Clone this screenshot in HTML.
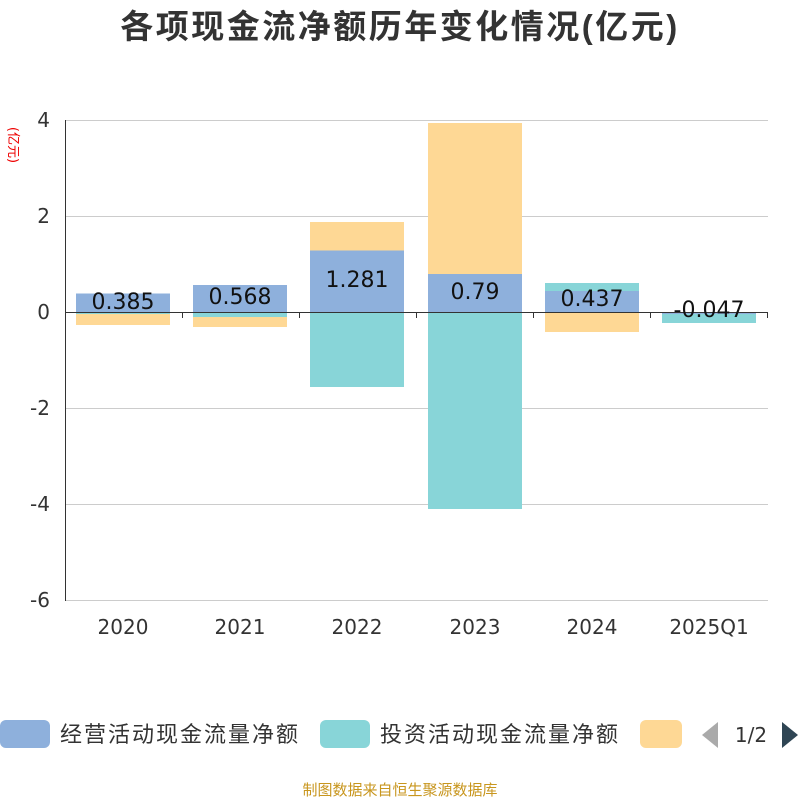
<!DOCTYPE html>
<html><head><meta charset="utf-8"><style>
body{margin:0;background:#fff;width:800px;height:800px;overflow:hidden}
</style></head><body>
<svg width="800" height="800" xmlns="http://www.w3.org/2000/svg" font-family="DejaVu Sans, Noto Sans CJK SC, sans-serif">
<text x="400" y="38" text-anchor="middle" font-size="33" font-weight="bold" fill="#333" font-family="Liberation Sans, Noto Sans CJK SC, sans-serif" letter-spacing="2.5">各项现金流净额历年变化情况(亿元)</text>
<text x="9" y="145" font-size="13" fill="#e00" transform="rotate(90 9 145)" text-anchor="middle">(亿元)</text>
<g stroke="#ccc" stroke-width="1">
<line x1="65" y1="120.5" x2="768" y2="120.5"/><line x1="65" y1="216.5" x2="768" y2="216.5"/>
<line x1="65" y1="408.5" x2="768" y2="408.5"/><line x1="65" y1="504.5" x2="768" y2="504.5"/>
<line x1="65" y1="600.5" x2="768" y2="600.5"/>
</g>
<g font-size="20" fill="#333" text-anchor="end">
<text x="50" y="127">4</text><text x="50" y="223">2</text><text x="50" y="319">0</text>
<text x="50" y="415">-2</text><text x="50" y="511">-4</text><text x="50" y="607">-6</text>
</g>
<rect x="76" y="293.5" width="94" height="18.5" fill="#8eb0dc"/>
<rect x="76" y="312" width="94" height="2" fill="#88d5d8"/>
<rect x="76" y="314" width="94" height="11" fill="#fed895"/>
<rect x="193" y="285" width="94" height="27" fill="#8eb0dc"/>
<rect x="193" y="312" width="94" height="5" fill="#88d5d8"/>
<rect x="193" y="317" width="94" height="10" fill="#fed895"/>
<rect x="310" y="222" width="94" height="28.5" fill="#fed895"/>
<rect x="310" y="250.5" width="94" height="61.5" fill="#8eb0dc"/>
<rect x="310" y="312" width="94" height="75" fill="#88d5d8"/>
<rect x="428" y="123" width="94" height="151" fill="#fed895"/>
<rect x="428" y="274" width="94" height="38" fill="#8eb0dc"/>
<rect x="428" y="312" width="94" height="197" fill="#88d5d8"/>
<rect x="545" y="283" width="94" height="8" fill="#88d5d8"/>
<rect x="545" y="291" width="94" height="21" fill="#8eb0dc"/>
<rect x="545" y="312" width="94" height="20" fill="#fed895"/>
<rect x="662" y="312" width="94" height="2" fill="#8eb0dc"/>
<rect x="662" y="314" width="94" height="9" fill="#88d5d8"/>
<line x1="65.5" y1="120" x2="65.5" y2="601" stroke="#333"/>
<line x1="65" y1="312.5" x2="768" y2="312.5" stroke="#333"/>
<g stroke="#333">
<line x1="65.5" y1="312" x2="65.5" y2="318"/><line x1="182.5" y1="312" x2="182.5" y2="318"/>
<line x1="299.5" y1="312" x2="299.5" y2="318"/><line x1="416.5" y1="312" x2="416.5" y2="318"/>
<line x1="533.5" y1="312" x2="533.5" y2="318"/><line x1="650.5" y1="312" x2="650.5" y2="318"/>
<line x1="767.5" y1="312" x2="767.5" y2="318"/>
</g>
<g font-size="22" fill="#111" text-anchor="middle">
<text x="123" y="309">0.385</text><text x="240" y="304">0.568</text>
<text x="357" y="287">1.281</text><text x="475" y="299">0.79</text>
<text x="592" y="306">0.437</text><text x="709" y="317">-0.047</text>
</g>
<g font-size="20" fill="#333" text-anchor="middle">
<text x="123" y="634">2020</text><text x="240" y="634">2021</text><text x="357" y="634">2022</text>
<text x="475" y="634">2023</text><text x="592" y="634">2024</text><text x="709" y="634">2025Q1</text>
</g>
<rect x="0" y="720" width="50" height="28" rx="6" fill="#8eb0dc"/>
<text x="60" y="742" font-size="22" fill="#333" letter-spacing="2">经营活动现金流量净额</text>
<rect x="320" y="720" width="50" height="28" rx="6" fill="#88d5d8"/>
<text x="380" y="742" font-size="22" fill="#333" letter-spacing="2">投资活动现金流量净额</text>
<rect x="640" y="720" width="42" height="28" rx="6" fill="#fed895"/>
<polygon points="718,722 718,748 702,735" fill="#aaa"/>
<text x="751" y="742" font-size="20" fill="#333" text-anchor="middle">1/2</text>
<polygon points="782,722 782,748 798,735" fill="#2f4554"/>
<text x="400" y="795" font-size="15" fill="#c8961e" text-anchor="middle">制图数据来自恒生聚源数据库</text>
</svg>
</body></html>
